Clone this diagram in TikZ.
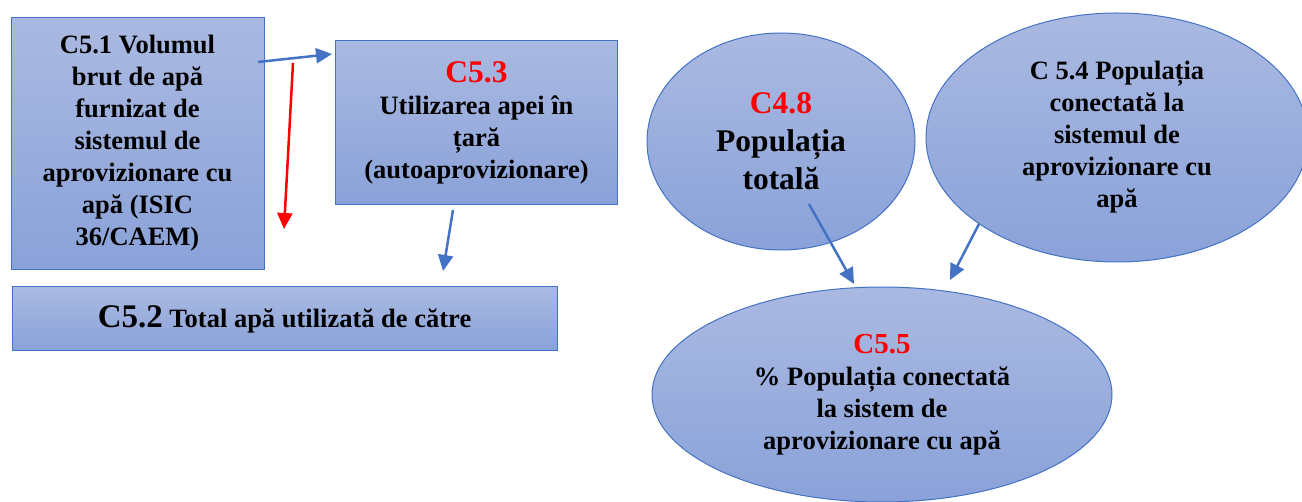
\documentclass[tikz,border=0pt]{standalone}
\usepackage{fontspec}
\setmainfont{Liberation Serif}[BoldFont={Liberation Serif Bold}]
\usetikzlibrary{shapes.geometric,arrows.meta}
\definecolor{bord}{HTML}{4472C4}
\definecolor{ftop}{HTML}{AAB9E1}
\definecolor{fbot}{HTML}{8AA2D9}
\definecolor{redt}{HTML}{FF0000}
\begin{document}
\begin{tikzpicture}[x=1pt,y=-1pt,
  box/.style={draw=bord, line width=1pt, top color=ftop, bottom color=fbot, align=center, inner sep=0pt, text=black, font=\rmfamily\bfseries\fontsize{26.5}{32}\selectfont},
  oval/.style={box, ellipse},
  conn/.style={draw=bord, line width=2.5pt, -{Triangle[length=16pt,width=15pt]}},
  redconn/.style={conn, draw=redt, fill=redt}]
\useasboundingbox (0,0) rectangle (1302,502);

\node[box, minimum width=253pt, minimum height=252pt] (c51) at (137.5,143.5)
  {C5.1 Volumul\\brut de apă\\furnizat de\\sistemul de\\aprovizionare cu\\apă (ISIC\\36/CAEM)};
\node[box, minimum width=282pt, minimum height=164pt] (c53) at (476.5,122.5)
  {{\color{redt}\fontsize{31.5}{32}\selectfont C5.3}\\Utilizarea apei în\\țară\\(autoaprovizionare)};
\node[box, minimum width=545pt, minimum height=64pt] (c52) at (284.5,319)
  {{\fontsize{33}{32}\selectfont C5.2} Total apă utilizată de către};
\node[oval, minimum width=268pt, minimum height=217pt, font=\rmfamily\bfseries\fontsize{31.5}{38}\selectfont] (c48) at (781,141.5)
  {{\color{redt}C4.8}\\Populația\\totală};
\node[oval, minimum width=382pt, minimum height=249pt] (c54) at (1117,137.5)
  {C 5.4 Populația\\conectată la\\sistemul de\\aprovizionare cu\\apă};
\node[oval, minimum width=460pt, minimum height=215pt] (c55) at (882,394.5)
  {{\color{redt}\fontsize{29}{32}\selectfont C5.5}\\\% Populația conectată\\la sistem de\\aprovizionare cu apă};

\coordinate (a1s) at (258,62);  \coordinate (a1e) at (332,54);
\coordinate (a2s) at (293,63);  \coordinate (a2e) at (284,229);
\coordinate (a3s) at (453,210); \coordinate (a3e) at (443,271);
\coordinate (a4s) at (809,204); \coordinate (a4e) at (854,284);
\coordinate (a5s) at (979,224); \coordinate (a5e) at (950,280);

\draw[conn] (a1s) -- (a1e);
\draw[redconn] (a2s) -- (a2e);
\draw[conn] (a3s) -- (a3e);
\draw[conn] (a4s) -- (a4e);
\draw[conn] (a5s) -- (a5e);
\end{tikzpicture}
\end{document}
